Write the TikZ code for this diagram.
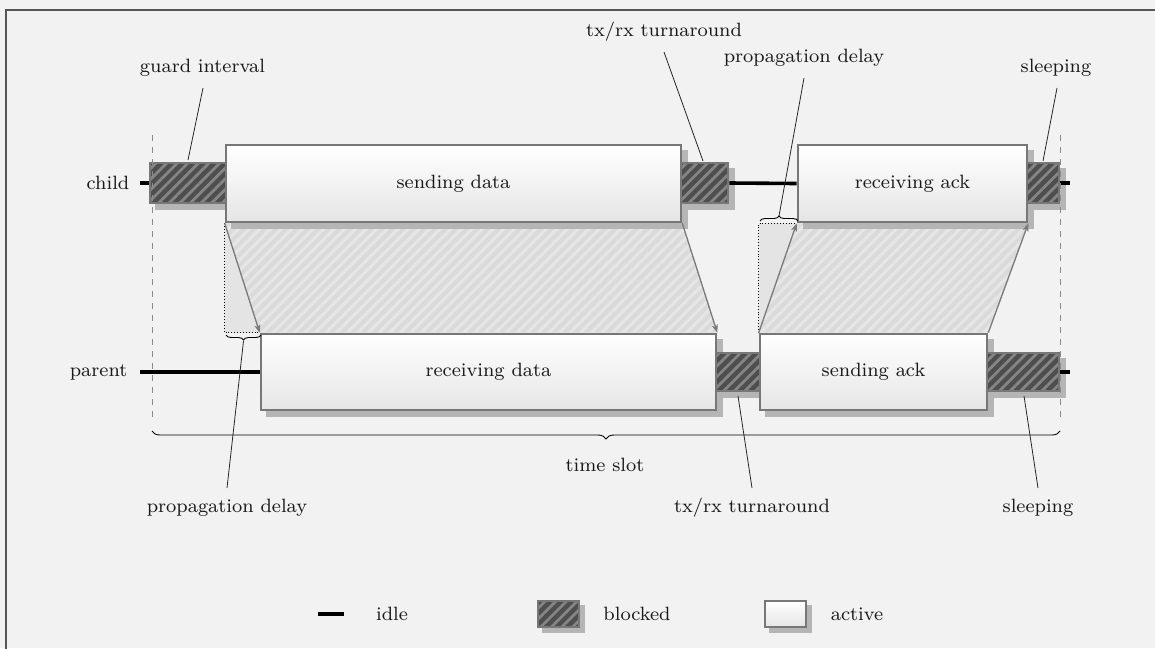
\documentclass[tikz,border=0pt]{standalone}
\usetikzlibrary{patterns.meta,decorations.pathreplacing,arrows.meta}
\definecolor{bgc}{HTML}{F2F2F2}
\definecolor{framec}{HTML}{555555}
\definecolor{boxborder}{HTML}{777777}
\definecolor{shadc}{HTML}{B5B5B5}
\definecolor{blockdark}{HTML}{4E4E4E}
\definecolor{blocklight}{HTML}{858585}
\definecolor{trapdark}{HTML}{DADADA}
\definecolor{traplight}{HTML}{E6E6E6}
\definecolor{arrowc}{HTML}{7A7A7A}
\definecolor{propc}{HTML}{E4E4E4}
\definecolor{dashc}{HTML}{8A8A8A}
\pgfdeclarelayer{bg}
\pgfdeclarelayer{shad}
\pgfsetlayers{bg,shad,main}
\tikzset{
  lbl/.style={font=\fontsize{8}{9.6}\selectfont, scale=2.41, text=black!90, inner sep=0.5pt},
  activebox/.style={draw=boxborder, line width=2.6pt, top color=white, bottom color=black!10, inner sep=0pt},
  blockedbox/.style={draw=boxborder, line width=2.6pt, inner sep=0pt,
    preaction={fill=blockdark},
    pattern={Lines[angle=45,distance=7.5pt,line width=2.8pt]}, pattern color=blocklight},
  idleline/.style={line width=3.6pt, black},
  shadowfill/.style={fill=shadc},
  flowarrow/.style={arrowc, line width=1.3pt, -{Stealth[length=8pt,width=6pt,inset=2pt]}},
  leader/.style={black!85, line width=0.8pt},
  dotline/.style={black, line width=0.9pt, dotted},
  bracestyle/.style={black, line width=0.9pt, decorate},
  slotdash/.style={dashc, line width=1pt, dash pattern=on 6pt off 6pt},
  trapfill/.style={pattern={Lines[angle=45,distance=7.5pt,line width=3.2pt]}, pattern color=traplight},
}
\begin{document}
\begin{tikzpicture}[x=1pt,y=-1pt]
\useasboundingbox (0,0) rectangle (1155,648);
\begin{pgfonlayer}{bg}
\fill[bgc] (0,0) rectangle (1155,648);
\draw[framec, line width=1.5pt] (6,660) -- (6,10) -- (1170,10);
\end{pgfonlayer}

% child row
\node[blockedbox, minimum width=76pt, minimum height=40pt] (cg) at (188,183) {};
\node[activebox, minimum width=455pt, minimum height=77pt] (sd) at (453.5,183.5) {};
\node[blockedbox, minimum width=47pt, minimum height=40pt] (ctx) at (704.5,183) {};
\node[activebox, minimum width=229pt, minimum height=77pt] (ra) at (912.5,183.5) {};
\node[blockedbox, minimum width=32pt, minimum height=40pt] (cs) at (1043,183) {};
% parent row
\node[activebox, minimum width=455pt, minimum height=76pt] (rd) at (488.5,372) {};
\node[blockedbox, minimum width=44pt, minimum height=38pt] (ptx) at (738,372) {};
\node[activebox, minimum width=227pt, minimum height=76pt] (sa) at (873.5,372) {};
\node[blockedbox, minimum width=72pt, minimum height=38pt] (ps) at (1023,372) {};

\node[lbl] (tsd) at (sd.center) {sending data};
\node[lbl] (tra) at (ra.center) {receiving ack};
\node[lbl] (trd) at (rd.center) {receiving data};
\node[lbl] (tsa) at (sa.center) {sending ack};

\node[lbl, anchor=east] (child) at (131,183) {child};
\node[lbl, anchor=east] (parent) at (129,372) {parent};

% shadows and idle lines
\begin{pgfonlayer}{shad}
\foreach \n in {cg,sd,ctx,ra,cs,rd,ptx,sa,ps}{
  \fill[shadowfill] ([shift={(6,6)}]\n.north west) rectangle ([shift={(6,6)}]\n.south east);
}
\coordinate (cl0) at (140,183);
\coordinate (cl1) at (1070,183);
\coordinate (pl0) at (140,372);
\coordinate (pl1) at (1070,372);
\draw[idleline] (cl0) -- (cg.west);
\draw[idleline] (ctx.east) -- (ra.west);
\draw[idleline] (cs.east) -- (cl1);
\draw[idleline] (pl0) -- (rd.west);
\draw[idleline] (ps.east) -- (pl1);
\end{pgfonlayer}

% transmission areas
\begin{pgfonlayer}{bg}
\fill[trapdark] (sd.south west) -- (sd.south east) -- (rd.north east) -- (rd.north west) -- cycle;
\fill[trapfill] (sd.south west) -- (sd.south east) -- (rd.north east) -- (rd.north west) -- cycle;
\fill[trapdark] (sa.north west) -- (sa.north east) -- (ra.south east) -- (ra.south west) -- cycle;
\fill[trapfill] (sa.north west) -- (sa.north east) -- (ra.south east) -- (ra.south west) -- cycle;
\coordinate (pd1) at (sd.south west |- rd.north);
\coordinate (pd2) at (sa.north west |- ra.south);
\fill[propc] (sd.south west) -- (pd1) -- (rd.north west) -- cycle;
\fill[propc] (sa.north west) -- (pd2) -- (ra.south west) -- cycle;
\draw[dotline] (sd.south west) -- (pd1) -- (rd.north west);
\draw[dotline] (sa.north west) -- (pd2) -- (ra.south west);
\end{pgfonlayer}

\draw[flowarrow] (sd.south west) -- (rd.north west);
\draw[flowarrow] (sd.south east) -- (rd.north east);
\draw[flowarrow] (sa.north west) -- (ra.south west);
\draw[flowarrow] (sa.north east) -- (ra.south east);

% slot boundaries
\coordinate (dl0) at (152,135);
\coordinate (dl1) at (152,420);
\coordinate (dr0) at (1060,135);
\coordinate (dr1) at (1060,420);
\draw[slotdash] (dl0) -- (dl1);
\draw[slotdash] (dr0) -- (dr1);

% braces
\coordinate (tsr) at (1060,431);
\coordinate (tsl) at (152,431);
\draw[bracestyle, decoration={brace, amplitude=8pt}] (tsr) -- (tsl);
\node[lbl] (tslot) at (605,465) {time slot};

\coordinate (pb1) at (261,335);
\coordinate (pb0) at (226,335);
\draw[bracestyle, decoration={brace, amplitude=5pt}] (pb1) -- (pb0);
\coordinate (pbt) at (243.5,341);
\coordinate (qb0) at (760,221);
\coordinate (qb1) at (798,221);
\draw[bracestyle, decoration={brace, amplitude=5pt}] (qb0) -- (qb1);
\coordinate (qbt) at (779,216);

% labels top
\node[lbl] (lguard) at (202.5,68) {guard interval};
\node[lbl] (ltxt) at (664,32) {tx/rx turnaround};
\node[lbl] (lpropt) at (804,58) {propagation delay};
\node[lbl] (lsleept) at (1056,68) {sleeping};
% labels bottom
\node[lbl] (lpropb) at (227,508) {propagation delay};
\node[lbl] (ltxb) at (752,508) {tx/rx turnaround};
\node[lbl] (lsleepb) at (1038,508) {sleeping};

\coordinate (g0) at (188,160);
\coordinate (g1) at (203,88);
\draw[leader] (g0) -- (g1);
\coordinate (t0) at (703,161);
\coordinate (t1) at (664,52);
\draw[leader] (t0) -- (t1);
\coordinate (p1) at (804,78);
\draw[leader] (qbt) -- (p1);
\coordinate (s0) at (1043,161);
\coordinate (s1) at (1057,88);
\draw[leader] (s0) -- (s1);
\coordinate (pb2) at (227,488);
\draw[leader] (pbt) -- (pb2);
\coordinate (tb0) at (738,396);
\coordinate (tb1) at (752,488);
\draw[leader] (tb0) -- (tb1);
\coordinate (sb0) at (1024,396);
\coordinate (sb1) at (1038,488);
\draw[leader] (sb0) -- (sb1);

% legend
\coordinate (il0) at (318,614);
\coordinate (il1) at (344,614);
\draw[idleline] (il0) -- (il1);
\node[lbl] (lidle) at (392,614) {idle};
\node[blockedbox, minimum width=41pt, minimum height=26pt] (lgb) at (558.5,614) {};
\node[lbl] (lblocked) at (637,614) {blocked};
\node[activebox, minimum width=41pt, minimum height=26pt] (lga) at (785.5,614) {};
\node[lbl] (lactive) at (857,614) {active};
\begin{pgfonlayer}{shad}
\foreach \n in {lgb,lga}{
  \fill[shadowfill] ([shift={(5,5)}]\n.north west) rectangle ([shift={(5,5)}]\n.south east);
}
\end{pgfonlayer}
\end{tikzpicture}
\end{document}
